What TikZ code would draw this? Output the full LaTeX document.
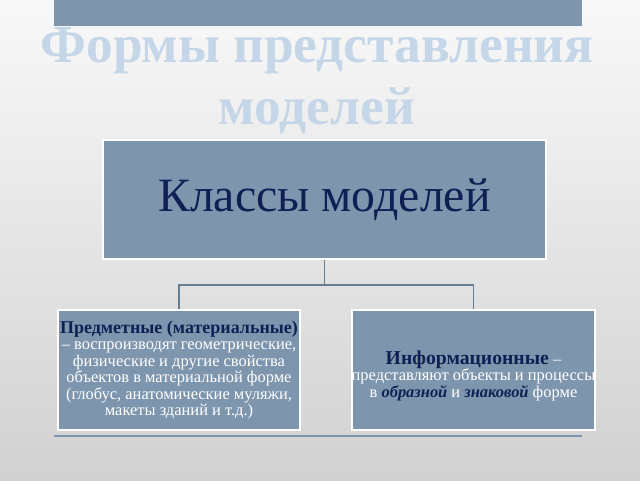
\documentclass[tikz,border=0pt]{standalone}
\usepackage{fontspec}
\setmainfont{Liberation Serif}
\usetikzlibrary{positioning}
\definecolor{boxblue}{RGB}{125,149,173}
\definecolor{linkblue}{RGB}{104,124,146}
\definecolor{titleblue}{RGB}{196,214,232}
\definecolor{navy}{RGB}{16,32,84}

\begin{document}
\begin{tikzpicture}
	[
		clsbox/.style={draw=white, line width=1.2pt, fill=boxblue, inner sep=0pt},
		subbox/.style={clsbox, minimum width=6.05cm, minimum height=3cm, align=center, text=white,
			font=\fontsize{11.7}{11.8}\selectfont},
		ttl/.style={anchor=base, text=titleblue, font=\fontsize{38}{44}\bfseries\selectfont},
		link/.style={draw=linkblue, line width=0.8pt}
	]
	\shade[top color=white!95!gray, bottom color=black!18] (0,0) rectangle (16,12);
	\useasboundingbox (0,0) rectangle (16,12);
	% decorations
	\fill[boxblue] (1.35,12) rectangle (14.55,11.35);
	\draw[boxblue, line width=1.6pt] (1.35,1.1) -- (14.55,1.1);

	\node(ttl1) [ttl] at (7.925,10.425) {Формы представления};
	\node(ttl2) [ttl] at (7.925,8.875) {моделей};

	\node(mcls) [clsbox, minimum width=11.075cm, minimum height=2.975cm, text=navy,
		font=\fontsize{34}{40}\selectfont] at (8.11,7.01) {Классы моделей};
	\node(mcls1) [subbox] at (4.475,2.75)
	{
		{\fontsize{12.8}{11.8}\bfseries\selectfont\color{navy}Предметные (материальные)}\\
		– воспроизводят геометрические,\\
		физические и другие свойства\\
		объектов в материальной форме\\
		(глобус, анатомические муляжи,\\
		макеты зданий и т.д.)
	};
	\node(mcls2) [subbox, right = 1.25cm of mcls1]
	{
		\rule{0pt}{18pt}{\fontsize{14}{16}\bfseries\selectfont\color{navy}Информационные} –\\
		представляют объекты и процессы\\
		в {\bfseries\itshape\color{navy}образной} и {\bfseries\itshape\color{navy}знаковой} форме
	};

	\foreach \x in {1,2}
		\draw[link] (mcls.south) -- ++(0,-0.625) -| (mcls\x.north);
\end{tikzpicture}
\end{document}
